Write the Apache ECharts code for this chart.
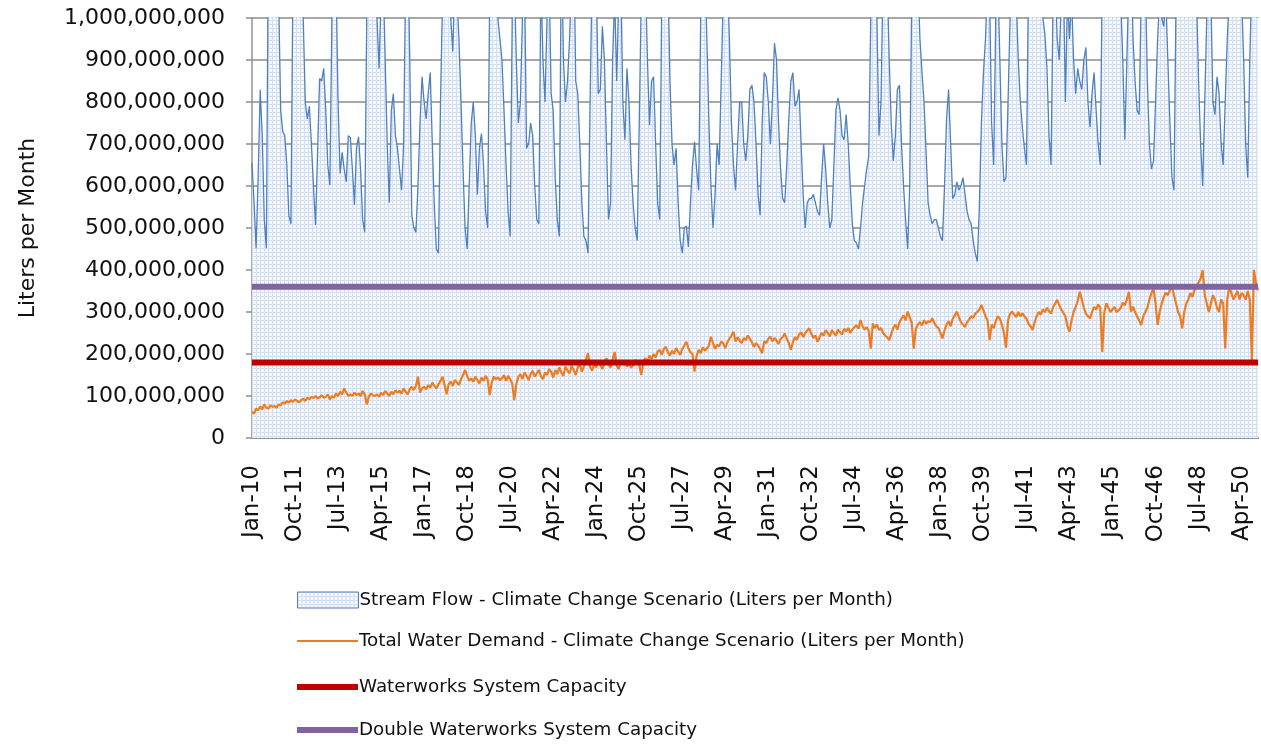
<!DOCTYPE html>
<html>
<head>
<meta charset="utf-8">
<script src="https://cdn.jsdelivr.net/npm/echarts@6/dist/echarts.min.js"></script>
<style>
  html, body { margin: 0; padding: 0; background: #fff; }
  #chart { width: 1261px; height: 744px; }
</style>
</head>
<body>
<div id="chart"></div>
<script>
// month labels, Jan-10 .. Dec-50
var monthNames = ['Jan', 'Feb', 'Mar', 'Apr', 'May', 'Jun', 'Jul', 'Aug', 'Sep', 'Oct', 'Nov', 'Dec'];
var years = [];
for (var y = 2010; y <= 2050; y++) years.push(y);

// stream flow, millions of liters per month (one row per year, peaks run off the top of the chart)
var streamFlow = [
  654, 560, 452, 620, 829, 720, 520, 452, 1200, 1400, 1300, 1200,
  1100, 1050, 780, 730, 720, 650, 530, 510, 1100, 1300, 1200, 1100,
  1050, 1000, 800, 760, 790, 700, 600, 507, 680, 856, 850, 880,
  780, 650, 602, 1000, 1300, 1100, 800, 630, 680, 640, 610, 720,
  715, 640, 555, 690, 717, 640, 520, 490, 1000, 1300, 1200, 1100,
  1100, 1000, 880, 1050, 1100, 900, 700, 560, 780, 820, 720, 690,
  640, 590, 700, 1100, 1200, 900, 530, 500, 490, 600, 750, 860,
  800, 760, 820, 870, 700, 550, 450, 440, 800, 1050, 1200, 1300,
  1100, 1000, 920, 1100, 1050, 950, 800, 640, 500, 450, 600, 750,
  800, 720, 580, 690, 725, 650, 540, 500, 1050, 1300, 1200, 1100,
  1000, 950, 900, 780, 650, 540, 480, 1000, 1100, 900, 750, 800,
  1000, 1100, 690, 700, 750, 720, 600, 520, 510, 1100, 900, 800,
  1000, 1100, 820, 780, 620, 520, 480, 1200, 900, 800, 850, 950,
  1100, 1200, 850, 820, 700, 560, 480, 470, 440, 800, 1100, 1200,
  1100, 820, 830, 980, 900, 700, 520, 560, 900, 1050, 850, 1050,
  1100, 800, 710, 880, 800, 650, 560, 500, 470, 750, 1050, 1200,
  1100, 900, 745, 850, 860, 700, 560, 520, 1050, 1200, 1200, 1100,
  850, 700, 650, 690, 560, 470, 440, 500, 505, 455, 560, 650,
  705, 640, 590, 1000, 1200, 1150, 950, 750, 600, 500, 580, 700,
  650, 850, 1050, 1200, 1100, 950, 750, 650, 590, 700, 800, 800,
  700, 660, 720, 830, 840, 800, 700, 580, 530, 750, 870, 860,
  800, 700, 800, 940, 900, 750, 640, 570, 560, 650, 760, 850,
  870, 790, 800, 830, 700, 580, 500, 560, 570, 570, 580, 560,
  540, 530, 620, 700, 640, 560, 500, 520, 650, 780, 810, 780,
  720, 710, 770, 700, 600, 510, 470, 465, 450, 500, 560, 600,
  640, 670, 1000, 1200, 1100, 1000, 720, 800, 1100, 1200, 1100, 900,
  750, 660, 720, 830, 840, 700, 600, 520, 450, 600, 1050, 1200,
  1150, 1100, 950, 870, 800, 680, 560, 530, 510, 520, 520, 500,
  480, 470, 600, 760, 830, 700, 570, 580, 610, 590, 600, 620,
  580, 540, 520, 510, 470, 440, 420, 550, 750, 870, 950, 1100,
  1050, 750, 650, 1000, 1100, 900, 700, 610, 620, 800, 1000, 1200,
  1200, 1050, 900, 800, 740, 690, 650, 1100, 1200, 1200, 1150, 1100,
  1200, 1100, 1000, 960, 880, 720, 650, 1050, 1100, 950, 900, 1050,
  1100, 800, 1050, 950, 1050, 900, 820, 880, 850, 830, 900, 930,
  800, 740, 820, 870, 780, 700, 650, 1100, 1300, 1400, 1300, 1200,
  1300, 1200, 1300, 1100, 1050, 900, 710, 900, 1100, 1200, 950, 850,
  780, 770, 1050, 1200, 1100, 850, 700, 640, 660, 800, 950, 1050,
  1000, 980, 1050, 900, 750, 620, 590, 1050, 1200, 1300, 1350, 1300,
  1250, 1300, 1200, 1150, 1100, 1050, 850, 700, 600, 800, 1000, 1100,
  1050, 800, 770, 860, 820, 700, 650, 800, 950, 1050, 1200, 1300,
  1250, 1200, 1100, 1050, 900, 700, 620, 900, 1100, 1200, 1100, 1000
];

// total water demand, millions of liters per month
var waterDemand = [
  62, 58, 70, 66, 75, 68, 80, 72, 70, 78, 74, 76,
  72, 80, 78, 85, 82, 88, 84, 90, 86, 92, 88, 85,
  90, 94, 88, 96, 92, 98, 95, 100, 94, 97, 102, 96,
  98, 104, 92, 100, 96, 106, 100, 110, 104, 118, 108, 100,
  104, 100, 108, 102, 106, 100, 112, 104, 80, 98, 106, 102,
  100, 104, 98, 108, 102, 112, 106, 100, 110, 104, 114, 108,
  112, 106, 118, 110, 104, 116, 122, 114, 124, 146, 108, 118,
  122, 116, 126, 120, 132, 124, 118, 128, 136, 146, 126, 104,
  128, 134, 124, 138, 132, 126, 140, 150, 162, 148, 136, 142,
  134, 146, 138, 130, 144, 136, 148, 140, 102, 132, 146, 140,
  144, 138, 142, 150, 136, 148, 140, 130, 90, 128, 146, 152,
  140, 156, 148, 138, 152, 160, 146, 154, 162, 148, 140, 156,
  150, 164, 158, 144, 162, 152, 168, 156, 148, 170, 160, 154,
  172, 162, 150, 168, 176, 158, 170, 186, 202, 170, 160, 176,
  168, 182, 174, 164, 180, 190, 176, 168, 186, 205, 172, 164,
  180, 176, 184, 170, 178, 168, 172, 186, 180, 174, 150, 184,
  190, 182, 196, 188, 200, 192, 206, 210, 198, 212, 217, 204,
  196, 208, 200, 214, 206, 198, 212, 220, 229, 214, 204, 200,
  158, 196, 210, 202, 216, 208, 213, 220, 241, 226, 212, 222,
  218, 230, 225, 214, 228, 236, 244, 253, 230, 240, 232, 226,
  238, 233, 244, 236, 228, 217, 226, 220, 212, 202, 230, 226,
  236, 242, 230, 238, 232, 224, 236, 240, 249, 236, 226, 210,
  228, 240, 234, 246, 252, 240, 250, 256, 261, 248, 238, 244,
  229, 240, 250, 244, 257, 250, 242, 257, 250, 244, 258, 252,
  246, 260, 254, 262, 250, 258, 264, 268, 260, 281, 266, 258,
  264, 256, 213, 273, 262, 270, 257, 262, 250, 244, 240, 233,
  248, 262, 270, 258, 276, 284, 292, 280, 301, 288, 274, 213,
  260, 270, 276, 268, 280, 272, 278, 276, 285, 274, 266, 262,
  250, 237, 256, 270, 278, 266, 284, 292, 301, 288, 276, 270,
  264, 276, 282, 290, 286, 296, 300, 306, 317, 304, 290, 280,
  233, 270, 262, 278, 290, 284, 270, 250, 215, 280, 296, 301,
  294, 288, 300, 290, 297, 290, 284, 272, 266, 257, 276, 290,
  300, 294, 306, 300, 310, 302, 296, 312, 320, 329, 316, 306,
  298, 290, 266, 253, 280, 300, 312, 326, 348, 330, 310, 296,
  290, 285, 300, 312, 306, 318, 310, 205, 300, 321, 310, 300,
  306, 312, 300, 304, 310, 322, 316, 330, 348, 301, 313, 300,
  290, 280, 269, 290, 300, 310, 330, 345, 356, 320, 269, 300,
  320, 336, 346, 340, 352, 360, 340, 320, 300, 290, 261, 300,
  320, 330, 345, 336, 352, 360, 370, 380, 400, 340, 320, 300,
  320, 340, 330, 310, 300, 330, 320, 213, 330, 360, 345, 330,
  340, 350, 330, 345, 340, 329, 350, 330, 186, 400, 370, 352
];

var systemCapacity = 180;   // millions of liters per month
var doubleCapacity = 360;

var seriesNames = [
  'Stream Flow - Climate Change Scenario (Liters per Month)',
  'Total Water Demand - Climate Change Scenario (Liters per Month)',
  'Waterworks System Capacity',
  'Double Waterworks System Capacity'
];
var seriesColors = ['#4f81bd', '#ed7d22', '#c00000', '#8064a2'];

var categories = [];
years.forEach(function (yr) {
  monthNames.forEach(function (m) {
    categories.push(m + '-' + String(yr).slice(2));
  });
});

function liters(v) { return v * 1000000; }

// light blue grid pattern like the excel fill
function makePattern() {
  var c = document.createElement('canvas');
  c.width = 4; c.height = 4;
  var g = c.getContext('2d');
  g.fillStyle = '#f4f7fc';
  g.fillRect(0, 0, 4, 4);
  g.fillStyle = '#d3def0';
  g.fillRect(0, 0, 4, 1);
  g.fillRect(0, 0, 1, 4);
  return c;
}
var pattern = { image: makePattern(), repeat: 'repeat' };

var font = 'DejaVu Sans';

// one legend block per entry so each icon gets its own thickness
var legendTops = [586, 627, 673, 716];
var legendIconH = [16, 2, 6, 6];
var legends = seriesNames.map(function (name, k) {
  var item = { name: name, icon: 'rect' };
  if (k === 0) {
    item.itemStyle = { color: pattern, borderColor: seriesColors[0], borderWidth: 1 };
  } else {
    item.itemStyle = { color: seriesColors[k] };
  }
  return {
    orient: 'vertical',
    left: 292,
    top: legendTops[k],
    itemWidth: 61,
    itemHeight: legendIconH[k],
    textStyle: { fontFamily: font, fontSize: 18.3, color: '#111', padding: [0, 0, 0, -4] },
    data: [item]
  };
});

var myChart = echarts.init(document.getElementById('chart'));

var option = {
  animation: false,
  backgroundColor: '#fff',
  grid: { left: 252, right: 3, top: 18, bottom: 306, containLabel: false },
  legend: legends,
  xAxis: {
    type: 'category',
    data: categories,
    boundaryGap: false,
    axisLine: { lineStyle: { color: '#909090', width: 2 } },
    axisTick: { show: false },
    axisLabel: {
      interval: 20,
      rotate: 90,
      margin: 27,
      fontFamily: font,
      fontSize: 23,
      color: '#111'
    },
    splitLine: { show: false }
  },
  yAxis: {
    type: 'value',
    min: 0,
    max: 1000000000,
    interval: 100000000,
    name: 'Liters per Month',
    nameLocation: 'middle',
    nameRotate: 90,
    nameGap: 213,
    nameTextStyle: { fontFamily: font, fontSize: 22, color: '#111' },
    axisLine: { show: true, lineStyle: { color: '#909090', width: 1.5 } },
    axisTick: { show: true, length: 6, lineStyle: { color: '#909090', width: 1.5 } },
    axisLabel: {
      margin: 27,
      fontFamily: font,
      fontSize: 22,
      color: '#111',
      formatter: function (v) { return v.toLocaleString('en-US'); }
    },
    splitLine: { lineStyle: { color: '#a8a8a8', width: 2 } }
  },
  series: [
    {
      name: seriesNames[0],
      type: 'line',
      data: streamFlow.map(liters),
      symbol: 'none',
      sampling: 'none',
      clip: true,
      lineStyle: { color: seriesColors[0], width: 1.3 },
      itemStyle: { color: seriesColors[0] },
      areaStyle: { color: pattern, opacity: 1 },
      z: 1
    },
    {
      name: seriesNames[1],
      type: 'line',
      data: waterDemand.map(liters),
      symbol: 'none',
      lineStyle: { color: seriesColors[1], width: 2.2 },
      itemStyle: { color: seriesColors[1] },
      z: 2
    },
    {
      name: seriesNames[2],
      type: 'line',
      data: categories.map(function () { return liters(systemCapacity); }),
      symbol: 'none',
      lineStyle: { color: seriesColors[2], width: 6 },
      itemStyle: { color: seriesColors[2] },
      z: 3
    },
    {
      name: seriesNames[3],
      type: 'line',
      data: categories.map(function () { return liters(doubleCapacity); }),
      symbol: 'none',
      lineStyle: { color: seriesColors[3], width: 6 },
      itemStyle: { color: seriesColors[3] },
      z: 4
    }
  ]
};

myChart.setOption(option);
</script>
</body>
</html>
